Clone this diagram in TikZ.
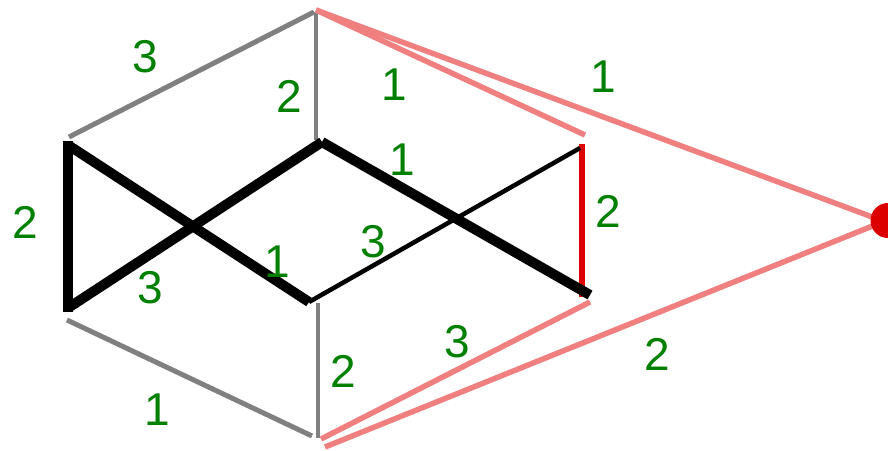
\documentclass[tikz,border=0pt]{standalone}
\usepackage{fontspec}
\setmainfont{Liberation Sans}
\definecolor{edgegray}{RGB}{128,128,128}
\definecolor{edgepink}{RGB}{240,128,128}
\definecolor{edgered}{RGB}{220,0,0}
\definecolor{lblgreen}{RGB}{0,128,0}
\begin{document}
\begin{tikzpicture}[x=1pt,y=-1pt,
  grayedge/.style={draw=edgegray,line width=5pt},
  grayvert/.style={draw=edgegray,line width=4pt},
  pinkedge/.style={draw=edgepink,line width=5.5pt},
  thickedge/.style={draw=black,line width=10pt},
  thinedge/.style={draw=black,line width=4.5pt},
  rededge/.style={draw=edgered,line width=6.5pt},
  lbl/.style={text=lblgreen,inner sep=0pt,anchor=base,font=\fontsize{46}{46}\selectfont}]
\clip (0,0) rectangle (888,450);
\useasboundingbox (0,0) rectangle (888,450);
% endpoints
\coordinate (g1a) at (69,137);
\coordinate (g1b) at (314,12);
\coordinate (g2a) at (316,12);
\coordinate (g2b) at (316,140);
\coordinate (p0) at (316,10);
\coordinate (p1) at (585,135);
\coordinate (p2) at (875,218);
\coordinate (p3a) at (590,302);
\coordinate (p3b) at (321,439);
\coordinate (p4a) at (875,225);
\coordinate (p4b) at (325,447);
\coordinate (kTL) at (68,145);
\coordinate (kBL) at (68,308);
\coordinate (kTC) at (322,142);
\coordinate (kBC) at (309,302);
\coordinate (kR) at (590,295);
\coordinate (tR) at (580,148);
\coordinate (rT) at (582,144);
\coordinate (rB) at (582,297);
\coordinate (g3a) at (67,320);
\coordinate (g3b) at (312,436);
\coordinate (g4a) at (318,303);
\coordinate (g4b) at (318,438);
% gray edges
\draw[grayedge] (g1a) -- (g1b);
\draw[grayvert] (g2a) -- (g2b);
\draw[grayedge] (g3a) -- (g3b);
\draw[grayvert] (g4a) -- (g4b);
% pink edges
\draw[pinkedge] (p0) -- (p1);
\draw[pinkedge] (p0) -- (p2);
\draw[pinkedge] (p3a) -- (p3b);
\draw[pinkedge] (p4a) -- (p4b);
% red edge
\draw[rededge] (rT) -- (rB);
% black edges
\draw[thinedge] (kBC) -- (tR);
\draw[thickedge] (68,141) -- (68,312);
\draw[thickedge] (kTL) -- (kBC);
\draw[thickedge] (kBL) -- (kTC);
\draw[thickedge] (kTC) -- (kR);
% red node
\node[fill=edgered,circle,minimum size=35pt,inner sep=0pt] (dot) at (888,220.5) {};
% labels
\node[lbl] (l1) at (145,72) {3};
\node[lbl] (l2) at (289,112) {2};
\node[lbl] (l3) at (394,100) {1};
\node[lbl] (l4) at (402,175) {1};
\node[lbl] (l5) at (603,92) {1};
\node[lbl] (l6) at (608,227) {2};
\node[lbl] (l7) at (25,238) {2};
\node[lbl] (l8) at (150,303) {3};
\node[lbl] (l9) at (277,277) {1};
\node[lbl] (l10) at (373,257) {3};
\node[lbl] (l11) at (343,387) {2};
\node[lbl] (l12) at (157,425) {1};
\node[lbl] (l13) at (457,357) {3};
\node[lbl] (l14) at (657,370) {2};
\end{tikzpicture}
\end{document}
